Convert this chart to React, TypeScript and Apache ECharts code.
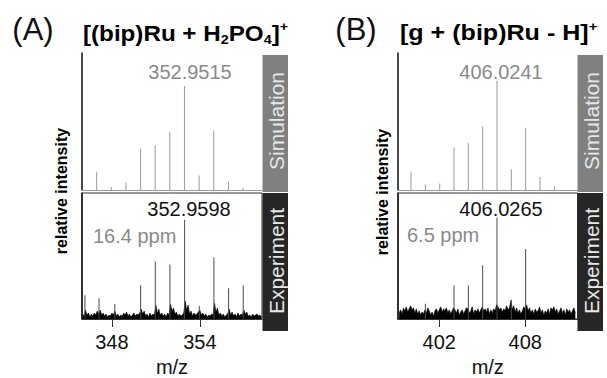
import React, { useEffect, useRef } from "react";
import * as echarts from "echarts";

// ---------- data ----------
// Panel A: [(bip)Ru + H2PO4]+
const simAMz = [346.96, 347.96, 348.96, 349.96, 350.95, 351.95, 352.95, 353.95, 354.95, 355.95, 356.95];
const simAInt = [17, 3, 7, 40, 43, 56, 100, 14, 57, 8, 2];
const expAMz = [346.16, 347.12, 348.2, 349.96, 350.96, 351.96, 352.96, 353.96, 354.96, 355.96, 356.96];
const expAInt = [24, 21, 15, 34, 58, 55, 100, 13, 62, 31, 34];
const noiseAStart = 346.0;
const noiseAInt = [
  5, 3, 9, 4, 6, 2, 5, 3, 6, 4,
  8, 5, 9, 4, 6, 3, 5, 2, 4, 3,
  6, 4, 8, 3, 5, 2, 4, 3, 6, 4,
  7, 3, 5, 2, 4, 6, 3, 5, 4, 6,
  10, 5, 8, 3, 5, 2, 6, 3, 5, 4,
  14, 6, 10, 4, 6, 3, 5, 2, 6, 4,
  15, 8, 11, 5, 7, 3, 5, 3, 4, 6,
  18, 9, 14, 5, 8, 3, 6, 4, 5, 7,
  9, 4, 6, 3, 5, 2, 4, 3, 5, 4,
  16, 7, 11, 4, 6, 3, 5, 2, 4, 5,
  10, 4, 7, 3, 5, 2, 6, 3, 5, 4,
  9, 5, 7, 3, 4, 2, 5, 3, 4, 5,
  3, 4, 2,
];
// Panel B: [g + (bip)Ru - H]+
const simBMz = [400.03, 401.03, 402.03, 403.03, 404.03, 405.03, 406.03, 407.03, 408.03, 409.03, 410.03];
const simBInt = [17, 5, 6, 39, 43, 58, 100, 19, 57, 12, 3];
const expBMz = [401.03, 403.03, 404.03, 405.03, 406.03, 407.03, 408.03];
const expBInt = [15, 33, 33, 53, 100, 19, 69];
const noiseBStart = 399.2;
const noiseBInt = [
  6, 9, 5, 11, 8, 12, 7, 10, 13, 9,
  11, 6, 10, 5, 8, 4, 7, 5, 9, 6,
  11, 8, 4, 7, 3, 8, 10, 6, 9, 12,
  7, 10, 8, 11, 6, 9, 5, 8, 11, 9,
  6, 10, 4, 7, 9, 5, 8, 11, 10, 6,
  8, 12, 5, 9, 7, 10, 6, 9, 12, 8,
  10, 7, 11, 5, 9, 6, 10, 8, 14, 12,
  9, 11, 7, 10, 8, 13, 9, 11, 18, 10,
  13, 7, 11, 6, 9, 5, 8, 12, 10, 14,
  8, 11, 6, 9, 5, 10, 7, 8, 12, 6,
  9, 4, 8, 6, 10, 5, 11, 9, 12, 7,
  10, 5, 8, 11, 6, 9, 4, 10, 7, 9,
  5, 8, 11, 6,
];
const noiseStep = 0.1;

const ticksA = [348, 354];
const ticksB = [402, 408];
const labelSimA = "352.9515";
const labelExpA = "352.9598";
const ppmA = "16.4 ppm";
const labelSimB = "406.0241";
const labelExpB = "406.0265";
const ppmB = "6.5 ppm";

const FONT = "'Liberation Sans', Arial, Helvetica, sans-serif";

function pairs(xs: number[], ys: number[]) {
  return xs.map((x, i) => [x, ys[i]]);
}
function noisePairs(start: number, ys: number[]) {
  return ys.map((y, i) => [Math.round((start + i * noiseStep) * 100) / 100, y]);
}

export default function App() {
  const ref = useRef<HTMLDivElement>(null);
  useEffect(() => {
    const chart = echarts.init(ref.current!, null, { renderer: "svg" });

    const A = { left: 82, width: 180 };
    const B = { left: 398, width: 179.5 };
    const simTop = 53, simH = 137, expTop = 193, expH = 136;

    const simX = (min: number, max: number, gi: number) => ({
      type: "value", gridIndex: gi, min, max,
      axisLine: { show: true, lineStyle: { color: "#9a9a9a", width: 1 } },
      axisTick: { show: false }, axisLabel: { show: false }, splitLine: { show: false },
    });
    const expX = (min: number, max: number, gi: number, ticks: number[]) => ({
      type: "value", gridIndex: gi, min, max,
      name: "m/z", nameLocation: "middle", nameGap: 38,
      nameTextStyle: { fontSize: 20, color: "#111", fontFamily: FONT },
      axisLine: { show: true, lineStyle: { color: "#333", width: 1 } },
      axisTick: { show: true, customValues: ticks, length: 8, lineStyle: { color: "#333" } },
      axisLabel: { show: true, customValues: ticks, fontSize: 20, color: "#111", margin: 13, fontFamily: FONT },
      splitLine: { show: false },
    });
    const yAx = (gi: number, max: number) => ({
      type: "value", gridIndex: gi, min: 0, max,
      axisLine: { show: true, lineStyle: { color: "#111", width: 1.5 } },
      axisTick: { show: false }, axisLabel: { show: false }, splitLine: { show: false },
    });

    const simBar = (xi: number, data: any) => ({
      type: "bar", xAxisIndex: xi, yAxisIndex: xi, data, barWidth: 1,
      itemStyle: { color: "#9a9a9a" }, silent: true,
    });
    const expBar = (xi: number, data: any) => ({
      type: "bar", xAxisIndex: xi, yAxisIndex: xi, data, barWidth: 1, z: 3,
      itemStyle: { color: "#4a4a4a" }, silent: true,
    });
    const noise = (xi: number, data: any) => ({
      type: "line", xAxisIndex: xi, yAxisIndex: xi, data, symbol: "none",
      lineStyle: { color: "#000", width: 0.6 }, areaStyle: { color: "#000", opacity: 1 },
      silent: true, z: 2,
    });

    const txt = (x: number, y: number, text: string, size: number, color: string, extra: any = {}) => ({
      type: "text", x, y, silent: true,
      style: { text, fontSize: size, fill: color, fontFamily: FONT, align: "center", verticalAlign: "middle", ...extra },
    });

    const rich = {
      sub: { fontSize: 13, fontWeight: "bold", verticalAlign: "bottom", lineHeight: 12, fontFamily: FONT, fill: "#000" },
      sup: { fontSize: 13, fontWeight: "bold", verticalAlign: "top", lineHeight: 12, fontFamily: FONT, fill: "#000" },
    };

    const box = (x: number, y: number, w: number, h: number, color: string) => ({
      type: "rect", shape: { x, y, width: w, height: h }, style: { fill: color }, silent: true,
    });
    const vtxt = (x: number, y: number, text: string, size: number, color: string, weight = "normal") => ({
      type: "text", x, y, rotation: Math.PI / 2, silent: true,
      style: { text, fontSize: size, fill: color, fontWeight: weight, fontFamily: FONT, align: "center", verticalAlign: "middle" },
    });

    const option: any = {
      animation: false,
      backgroundColor: "#fff",
      grid: [
        { left: A.left, top: simTop, width: A.width, height: simH },
        { left: A.left, top: expTop, width: A.width, height: expH, show: true, borderColor: "#333", borderWidth: 1 },
        { left: B.left, top: simTop, width: B.width, height: simH },
        { left: B.left, top: expTop, width: B.width, height: expH, show: true, borderColor: "#333", borderWidth: 1 },
      ],
      xAxis: [
        simX(345.96, 358.24, 0),
        expX(345.96, 358.24, 1, ticksA),
        simX(399.12, 411.65, 2),
        expX(399.12, 411.65, 3, ticksB),
      ],
      yAxis: [yAx(0, 131.7), yAx(1, 127), yAx(2, 125.3), yAx(3, 124)],
      series: [
        simBar(0, pairs(simAMz, simAInt)),
        noise(1, noisePairs(noiseAStart, noiseAInt)),
        expBar(1, pairs(expAMz, expAInt)),
        simBar(2, pairs(simBMz, simBInt)),
        noise(3, noisePairs(noiseBStart, noiseBInt)),
        expBar(3, pairs(expBMz, expBInt)),
      ],
      graphic: [
        txt(33, 29, "(A)", 31, "#111"),
        txt(356, 29, "(B)", 31, "#111"),
        {
          type: "text", x: 83, y: 33, scaleX: 1.1, silent: true,
          style: { text: "[(bip)Ru + H{sub|2}PO{sub|4}]{sup|+}", fontSize: 22, fontWeight: "bold", fill: "#000",
            fontFamily: FONT, align: "left", verticalAlign: "middle", lineHeight: 26, rich },
        },
        {
          type: "text", x: 400, y: 33, scaleX: 1.14, silent: true,
          style: { text: "[g + (bip)Ru - H]{sup|+}", fontSize: 22, fontWeight: "bold", fill: "#000",
            fontFamily: FONT, align: "left", verticalAlign: "middle", lineHeight: 26, rich },
        },
        vtxt(61, 191, "relative intensity", 16, "#000", "bold"),
        vtxt(382, 192, "relative intensity", 16, "#000", "bold"),
        box(262.5, 55, 25.5, 137, "#808080"),
        box(262.5, 193, 25.5, 138, "#262626"),
        box(577.5, 55, 25.5, 137, "#808080"),
        box(577.5, 193, 25.5, 138, "#262626"),
        vtxt(276, 121, "Simulation", 21, "#e6e6e6"),
        vtxt(276, 261, "Experiment", 21, "#e6e6e6"),
        vtxt(591, 121, "Simulation", 21, "#e6e6e6"),
        vtxt(591, 261, "Experiment", 21, "#e6e6e6"),
        txt(190, 72, labelSimA, 20, "#8a8a8a"),
        txt(189, 209, labelExpA, 20, "#111"),
        txt(93, 236, ppmA, 20, "#8a8a8a", { align: "left" }),
        txt(501, 72, labelSimB, 20, "#8a8a8a"),
        txt(501, 209, labelExpB, 20, "#111"),
        txt(407, 235, ppmB, 20, "#8a8a8a", { align: "left" }),
      ],
    };
    chart.setOption(option);
    return () => chart.dispose();
  }, []);
  return <div ref={ref} style={{ position: "absolute", left: 0, top: 0, width: 607, height: 378 }} />;
}
